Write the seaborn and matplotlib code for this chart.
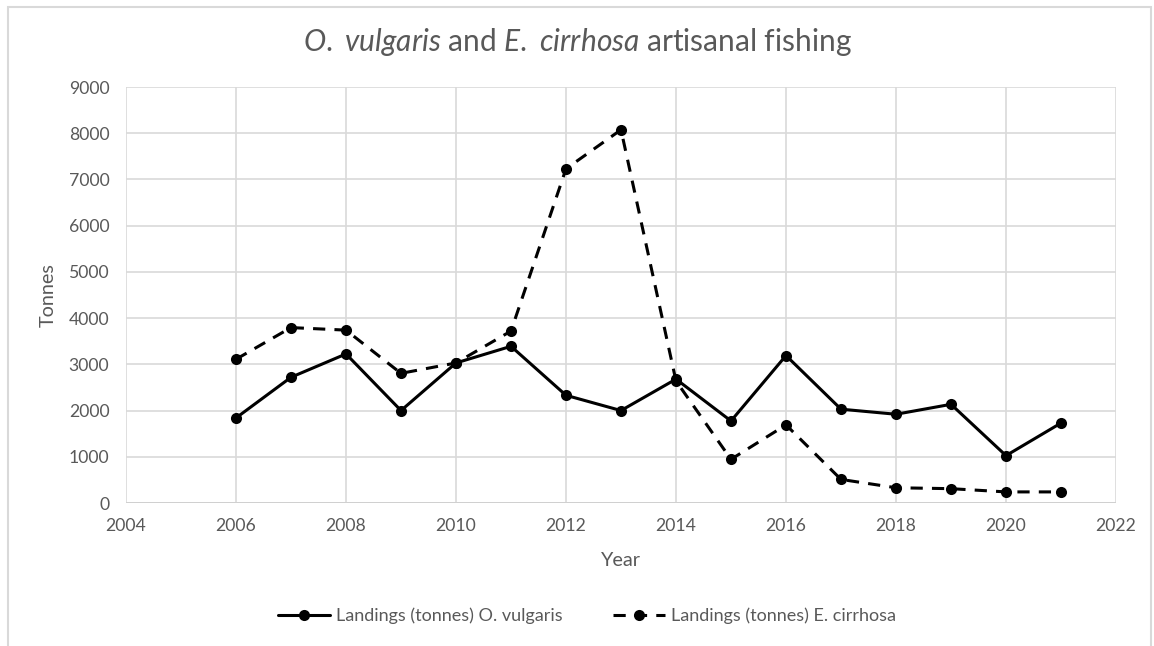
import matplotlib
matplotlib.use('Agg')
import matplotlib.pyplot as plt
import pandas as pd
import seaborn as sns

# landings
years = list(range(2006, 2022))
vulgaris = [1840, 2720, 3225, 2000, 3030, 3390, 2330, 2000,
            2680, 1775, 3190, 2030, 1920, 2135, 1025, 1730]
cirrhosa = [3110, 3795, 3740, 2805, 3030, 3720, 7230, 8075,
            2640, 945, 1690, 510, 330, 310, 240, 240]
xticks = list(range(2004, 2023, 2))
yticks = list(range(0, 9001, 1000))

sns.set_theme(style='white')
plt.rcParams['font.family'] = ['Lato', 'DejaVu Sans']
plt.rcParams['mathtext.fontset'] = 'custom'
plt.rcParams['mathtext.it'] = 'Lato:italic'
plt.rcParams['mathtext.rm'] = 'Lato'

grey = '#595959'
W, H = 1154, 646
fig = plt.figure(figsize=(W / 100, H / 100), dpi=100)
ax = fig.add_axes([126 / W, 1 - 503 / H, 990 / W, 416 / H])

df = pd.DataFrame({'year': years, 'vulgaris': vulgaris, 'cirrhosa': cirrhosa})
sns.lineplot(data=df, x='year', y='vulgaris', ax=ax, color='black', lw=2.2,
             marker='o', markersize=8, markeredgewidth=0,
             label='Landings (tonnes) O. vulgaris')
sns.lineplot(data=df, x='year', y='cirrhosa', ax=ax, color='black', lw=2.2,
             marker='o', markersize=8, markeredgewidth=0,
             label='Landings (tonnes) E. cirrhosa')
ax.lines[1].set_dashes((4, 3))

ax.set_xlim(2004, 2022)
ax.set_ylim(0, 9000)
ax.set_xticks(xticks)
ax.set_yticks(yticks)
ax.grid(True, color='#d9d9d9', lw=1.2)
for s in ax.spines.values():
    s.set_visible(False)
ax.axhline(0, color='#d0d0d0', lw=1.4, zorder=1)
ax.tick_params(length=0, labelsize=12.7, labelcolor=grey)
ax.tick_params(axis='y', pad=12)
ax.tick_params(axis='x', pad=11)
ax.set_xlabel('Year', fontsize=14.3, color=grey)
ax.set_ylabel('Tonnes', fontsize=14.3, color=grey)
ax.xaxis.set_label_coords(0.5, (503 - 560) / 416)
ax.yaxis.set_label_coords((48 - 126) / 990, 0.5)
ax.xaxis.label.set_va('center')
ax.yaxis.label.set_va('center')

fig.text(0.5, 1 - 42 / H,
         r'$\it{O.}$ $\it{vulgaris}$ and $\it{E.}$ $\it{cirrhosa}$ artisanal fishing',
         ha='center', va='center', fontsize=21.5, color=grey)

leg = ax.legend(loc='center', bbox_to_anchor=((587 - 126) / 990, (503 - 616) / 416),
                ncol=2, frameon=False, fontsize=13, handlelength=2.9,
                columnspacing=2.8, handletextpad=0.3)
for t in leg.get_texts():
    t.set_color(grey)

# outer chart frame
fig.patches.append(plt.Rectangle((8 / W, -0.1), 1143 / W, 1.1 - 7 / H,
                                 transform=fig.transFigure, fill=False,
                                 edgecolor='#d9d9d9', lw=1.5))

fig.savefig('out.png', dpi=100)
